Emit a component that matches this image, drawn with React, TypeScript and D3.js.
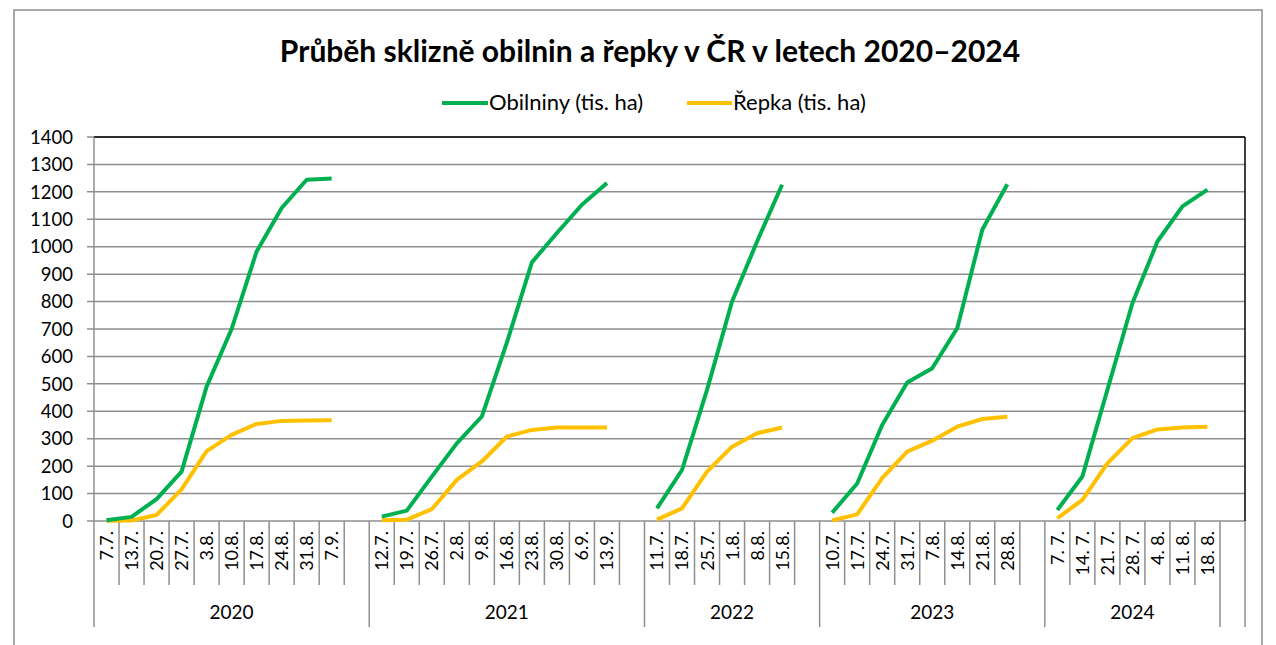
import * as d3 from "d3";

// skupiny na ose x (poslední prázdná skupina je v originálu také)
const years = ["2020", "2021", "2022", "2023", "2024", ""];

const dates2020 = ["7.7.", "13.7.", "20.7.", "27.7.", "3.8.", "10.8.", "17.8.", "24.8.", "31.8.", "7.9.", ""];
const dates2021 = ["12.7.", "19.7.", "26.7.", "2.8.", "9.8.", "16.8.", "23.8.", "30.8.", "6.9.", "13.9.", ""];
const dates2022 = ["11.7.", "18.7.", "25.7.", "1.8.", "8.8.", "15.8.", ""];
const dates2023 = ["10.7.", "17.7.", "24.7.", "31.7.", "7.8.", "14.8.", "21.8.", "28.8.", ""];
const dates2024 = ["7. 7.", "14. 7.", "21. 7.", "28. 7.", "4. 8.", "11. 8.", "18. 8."];
const datesEnd = [""];

const obilniny2020 = [3, 15, 80, 180, 490, 700, 983, 1141, 1244, 1249, null];
const obilniny2021 = [16, 38, 162, 283, 381, 650, 943, 1050, 1153, 1232, null];
const obilniny2022 = [46, 186, 478, 800, 1019, 1226, null];
const obilniny2023 = [30, 137, 350, 505, 557, 703, 1062, 1228, null];
const obilniny2024 = [40, 162, 478, 794, 1019, 1147, 1208];

const repka2020 = [1, 2, 22, 115, 255, 314, 354, 365, 366, 367, null];
const repka2021 = [3, 5, 43, 150, 217, 308, 332, 341, 341, 341, null];
const repka2022 = [5, 46, 180, 271, 320, 341, null];
const repka2023 = [2, 24, 156, 253, 293, 344, 372, 380, null];
const repka2024 = [10, 77, 210, 302, 334, 341, 344];

const yTicks = [0, 100, 200, 300, 400, 500, 600, 700, 800, 900, 1000, 1100, 1200, 1300, 1400];

const GREEN = "#00B050";
const YELLOW = "#FFC000";
const GRID = "#8f8f8f";
const FONT = "Lato, 'Open Sans', sans-serif";

export default function App() {
  const width = 1276;
  const height = 645;
  const m = { left: 94, right: 1245, top: 137, bottom: 521 };

  const groupDates = [dates2020, dates2021, dates2022, dates2023, dates2024, datesEnd];
  const obil = [obilniny2020, obilniny2021, obilniny2022, obilniny2023, obilniny2024, [null]];
  const rep = [repka2020, repka2021, repka2022, repka2023, repka2024, [null]];

  type Slot = { id: string; label: string; g: number; o: number | null; r: number | null };
  const slots: Slot[] = [];
  groupDates.forEach((ds, g) =>
    ds.forEach((d, i) => slots.push({ id: `${g}-${i}`, label: d, g, o: obil[g][i], r: rep[g][i] }))
  );

  const x = d3.scaleBand<string>().domain(slots.map((s) => s.id)).range([m.left, m.right]).padding(0);
  const y = d3.scaleLinear().domain([0, 1400]).range([m.bottom, m.top]);
  const bw = x.bandwidth();

  const makeLine = (key: "o" | "r") =>
    d3
      .line<Slot>()
      .defined((s) => s[key] != null)
      .x((s) => (x(s.id) as number) + bw / 2)
      .y((s) => y(s[key] as number));

  // hranice skupin
  const groupEdges: number[] = [m.left];
  let acc = 0;
  groupDates.forEach((ds) => {
    acc += ds.length;
    groupEdges.push(m.left + acc * bw);
  });

  const catTicks = slots
    .filter((s, i) => i > 0 && slots[i - 1].g === s.g)
    .map((s) => x(s.id) as number);

  const tickLen = 64;
  const groupLen = 106;

  return (
    <svg width={width} height={height} style={{ display: "block", position: "absolute", left: 0, top: 0 }}>
      <rect x={0} y={0} width={width} height={height} fill="#fff" />
      <rect x={14} y={10} width={1248} height={660} fill="#fff" stroke="#8c8c8c" strokeWidth={1.5} />

      <text x={650} y={62} textAnchor="middle" fontFamily={FONT} fontWeight={700} fontSize={30} fill="#000">
        Průběh sklizně obilnin a řepky v ČR v letech 2020–2024
      </text>

      {/* legenda */}
      <line x1={442} x2={488} y1={103} y2={103} stroke={GREEN} strokeWidth={4} />
      <text x={489} y={110} fontFamily={FONT} fontSize={22} fill="#000">Obilniny (tis. ha)</text>
      <line x1={687} x2={732} y1={103} y2={103} stroke={YELLOW} strokeWidth={4} />
      <text x={733} y={110} fontFamily={FONT} fontSize={22} fill="#000">Řepka (tis. ha)</text>

      {/* mřížka */}
      {yTicks.map((t) => (
        <g key={t}>
          <line x1={m.left - 7} x2={m.right} y1={y(t)} y2={y(t)} stroke={GRID} strokeWidth={1.5} />
          <text x={73} y={y(t)} dy="0.36em" textAnchor="end" fontFamily={FONT} fontSize={18.5} fill="#000">
            {t}
          </text>
        </g>
      ))}
      <line x1={m.left} x2={m.right} y1={m.top} y2={m.top} stroke="#000" strokeWidth={1.5} />
      <line x1={m.right} x2={m.right} y1={m.top} y2={m.bottom} stroke="#000" strokeWidth={1.5} />

      {/* osa x */}
      <line x1={m.left} x2={m.left} y1={m.top} y2={m.bottom} stroke={GRID} strokeWidth={1.5} />
      {catTicks.map((cx, i) => (
        <line key={i} x1={cx} x2={cx} y1={m.bottom} y2={m.bottom + tickLen} stroke={GRID} strokeWidth={1.5} />
      ))}
      {groupEdges.map((gx, i) => (
        <line key={i} x1={gx} x2={gx} y1={m.bottom} y2={m.bottom + groupLen} stroke={GRID} strokeWidth={1.5} />
      ))}
      {slots.map((s) => {
        const cx = (x(s.id) as number) + bw / 2;
        const ty = m.bottom + 10;
        return (
          <text
            key={s.id}
            transform={`translate(${cx},${ty}) rotate(-90)`}
            dy="0.36em"
            textAnchor="end"
            fontFamily={FONT}
            fontSize={18}
            fill="#000"
          >
            {s.label}
          </text>
        );
      })}
      {years.map((yr, i) => (
        <text
          key={i}
          x={(groupEdges[i] + groupEdges[i + 1]) / 2}
          y={619}
          textAnchor="middle"
          fontFamily={FONT}
          fontSize={19}
          fill="#000"
        >
          {yr}
        </text>
      ))}

      {/* řady */}
      <path d={makeLine("r")(slots) || ""} fill="none" stroke={YELLOW} strokeWidth={4} strokeLinejoin="round" />
      <path d={makeLine("o")(slots) || ""} fill="none" stroke={GREEN} strokeWidth={4} strokeLinejoin="round" />
    </svg>
  );
}
